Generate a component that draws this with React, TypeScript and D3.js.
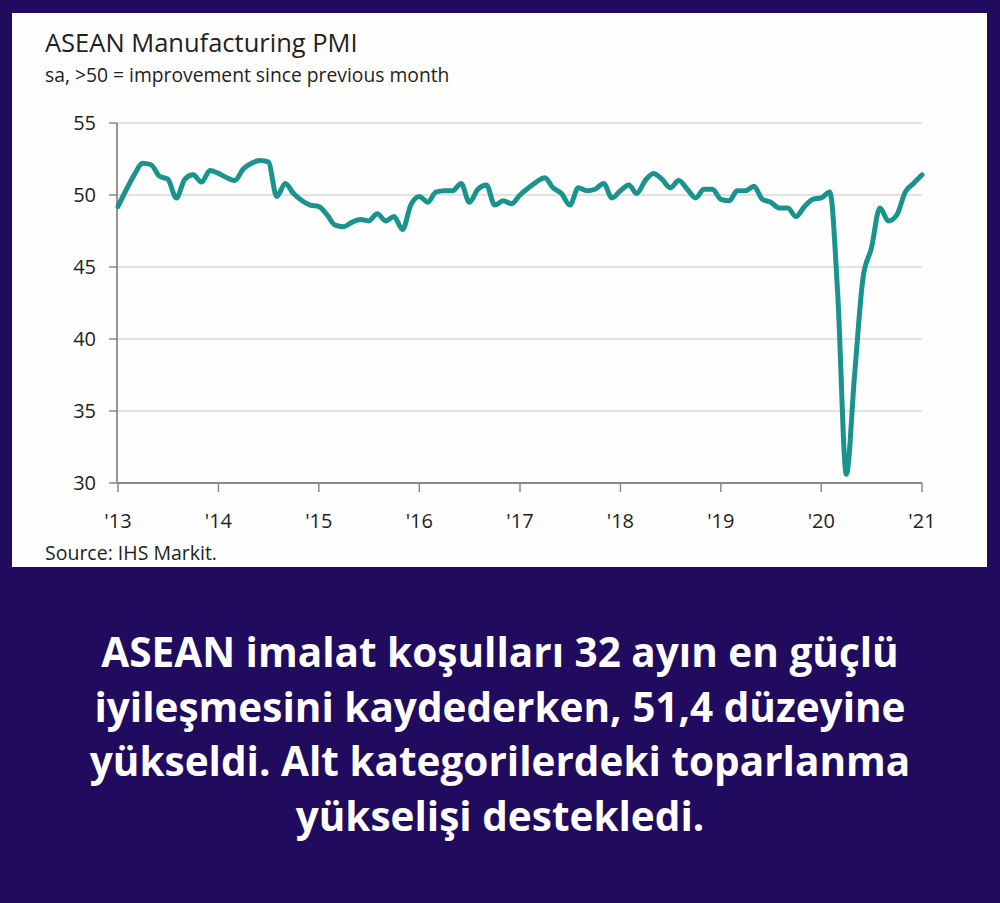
import { useEffect } from "react";
import * as d3 from "d3";

// ASEAN Manufacturing PMI, monthly, Jan 2013 .. Jan 2021
const startYear = 2013;
const pmi2013 = [49.2, 50.4, 51.4, 52.2, 52.1, 51.3, 51.1, 49.8, 51.1, 51.4, 50.9, 51.7];
const pmi2014 = [51.5, 51.2, 51.0, 51.8, 52.2, 52.4, 52.3, 49.9, 50.8, 50.1, 49.6, 49.3];
const pmi2015 = [49.2, 48.6, 47.9, 47.8, 48.1, 48.3, 48.2, 48.7, 48.2, 48.5, 47.6, 49.3];
const pmi2016 = [49.9, 49.5, 50.2, 50.3, 50.3, 50.8, 49.5, 50.4, 50.7, 49.3, 49.6, 49.4];
const pmi2017 = [50.0, 50.5, 50.9, 51.2, 50.5, 50.1, 49.3, 50.5, 50.3, 50.4, 50.8, 49.8];
const pmi2018 = [50.3, 50.7, 50.1, 51.0, 51.5, 51.1, 50.5, 51.0, 50.4, 49.8, 50.4, 50.4];
const pmi2019 = [49.7, 49.6, 50.3, 50.3, 50.6, 49.7, 49.5, 49.1, 49.1, 48.5, 49.2, 49.7];
const pmi2020 = [49.8, 50.2, 43.0, 30.6, 37.5, 44.3, 46.3, 49.1, 48.2, 48.6, 50.2, 50.8];
const pmi2021 = [51.4];

const yTicks = [30, 35, 40, 45, 50, 55];
const yearTicks = [2013, 2014, 2015, 2016, 2017, 2018, 2019, 2020, 2021];

const title = "ASEAN Manufacturing PMI";
const subtitle = "sa, >50 = improvement since previous month";
const source = "Source: IHS Markit.";
const caption = [
  "ASEAN imalat koşulları 32 ayın en güçlü",
  "iyileşmesini kaydederken, 51,4 düzeyine",
  "yükseldi. Alt kategorilerdeki toparlanma",
  "yükselişi destekledi.",
];

const series = [
  ...pmi2013, ...pmi2014, ...pmi2015, ...pmi2016, ...pmi2017,
  ...pmi2018, ...pmi2019, ...pmi2020, ...pmi2021,
].map((v, i) => ({ date: new Date(startYear, i, 1), value: v }));

export default function App() {
  useEffect(() => {
    document.body.style.margin = "0";
  }, []);

  const W = 1000;
  const H = 903;
  const x = d3
    .scaleTime()
    .domain([new Date(2013, 0, 1), new Date(2021, 0, 1)])
    .range([118, 922]);
  const y = d3.scaleLinear().domain([30, 55]).range([483, 123]);

  const line = d3
    .line<{ date: Date; value: number }>()
    .x((d) => x(d.date))
    .y((d) => y(d.value))
    .curve(d3.curveMonotoneX);

  const chartFont = "'Open Sans', 'Noto Sans', sans-serif";

  return (
    <svg width={W} height={H} style={{ display: "block" }}>
      <rect x={0} y={0} width={W} height={H} fill="#200b5e" />
      <rect x={12} y={13} width={975} height={554} fill="#fefefe" />

      <text x={45} y={52} fontFamily={chartFont} fontSize={25.5} fill="#231f20">
        {title}
      </text>
      <text x={45} y={82} fontFamily={chartFont} fontSize={19.3} fill="#231f20">
        {subtitle}
      </text>

      {yTicks.map((t) => (
        <g key={t}>
          {t > 30 && (
            <line x1={117} x2={922} y1={y(t)} y2={y(t)} stroke="#d9d9d9" strokeWidth={1.5} />
          )}
          <line x1={109} x2={117} y1={y(t)} y2={y(t)} stroke="#8a8a8a" strokeWidth={1.5} />
          <text
            x={96}
            y={y(t) + 7}
            textAnchor="end"
            fontFamily={chartFont}
            fontSize={20}
            fill="#231f20"
          >
            {t}
          </text>
        </g>
      ))}

      <line x1={117} x2={117} y1={123} y2={483} stroke="#8a8a8a" strokeWidth={1.8} />
      <line x1={117} x2={922} y1={483} y2={483} stroke="#8a8a8a" strokeWidth={1.8} />

      {yearTicks.map((yr) => {
        const px = x(new Date(yr, 0, 1));
        return (
          <g key={yr}>
            <line x1={px} x2={px} y1={483} y2={492} stroke="#8a8a8a" strokeWidth={1.5} />
            <text
              x={px}
              y={528}
              textAnchor="middle"
              fontFamily={chartFont}
              fontSize={20}
              fill="#231f20"
            >
              {"'" + String(yr).slice(2)}
            </text>
          </g>
        );
      })}

      <path
        d={line(series) ?? ""}
        fill="none"
        stroke="#1a938f"
        strokeWidth={5}
        strokeLinejoin="round"
        strokeLinecap="round"
      />

      <text x={45} y={560} fontFamily={chartFont} fontSize={19.5} fill="#231f20">
        {source}
      </text>

      {caption.map((c, i) => (
        <text
          key={i}
          x={500}
          y={667 + i * 54.5}
          textAnchor="middle"
          fontFamily="'Open Sans', sans-serif"
          fontWeight={700}
          fontSize={40.5}
          fill="#ffffff"
        >
          {c}
        </text>
      ))}
    </svg>
  );
}
